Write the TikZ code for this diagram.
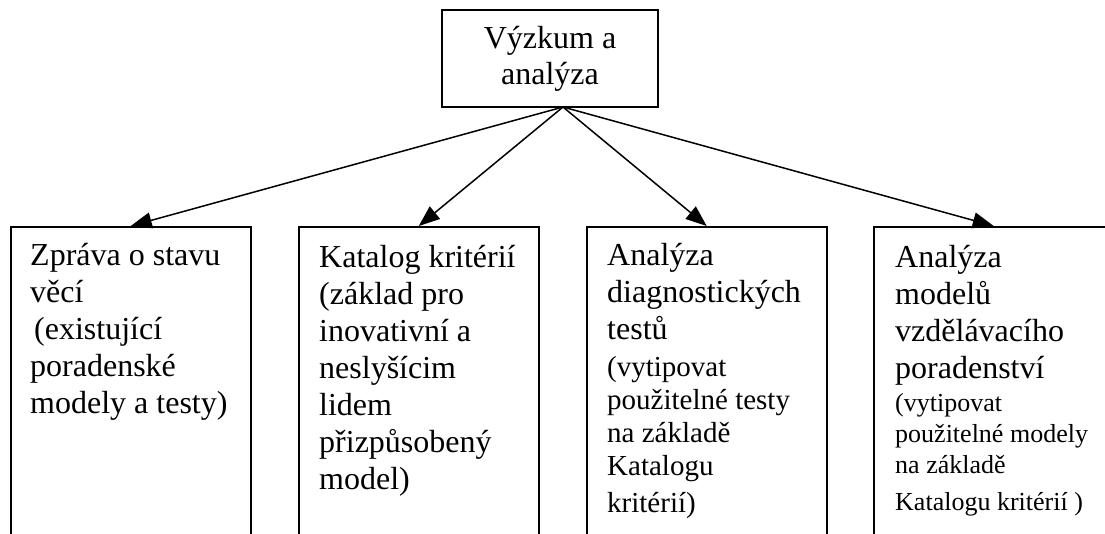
\documentclass[tikz,border=0pt]{standalone}
\usepackage{fontspec}
\setmainfont{Liberation Serif}
\usetikzlibrary{arrows.meta}
\begin{document}
\begin{tikzpicture}[x=1pt, y=1pt, every node/.style={inner sep=0pt},
    topbox/.style={draw, line width=1.5pt, minimum width=216pt, minimum height=97pt, align=center, font=\fontsize{32}{36}\selectfont},
    subbox/.style={draw, line width=1.5pt, minimum width=240pt, minimum height=400pt, anchor=north west},
    subtext/.style={anchor=north west, text width=230pt, align=flush left, font=\fontsize{32}{37}\selectfont},
    conn/.style={line width=1.5pt, -{Triangle[length=21pt, width=16pt]}}]
    \clip (0,0) rectangle (1105,-533);
    \node[topbox] (top) at (550, -58.5) {Výzkum a\\analýza};
    \coordinate (hub) at (563, -107);
    \node[subbox] (b1) at (10, -226) {};
    \node[subbox] (b2) at (298, -226) {};
    \node[subbox] (b3) at (586, -226) {};
    \node[subbox] (b4) at (873, -226) {};
    \node[subtext] (t1) at (30, -235) {\rule{0pt}{30pt}Zpráva o stavu\\věcí\\\hspace*{4pt}(existující\\poradenské\\modely a testy)};
    \node[subtext] (t2) at (319, -237) {\rule{0pt}{30pt}Katalog kritérií\\(základ pro\\inovativní a\\neslyšícim\\lidem\\přizpůsobený\\model)};
    \node[subtext] (t3) at (607, -235) {\rule{0pt}{30pt}Analýza\\diagnostických\\testů\par\vspace{4pt}
        \fontsize{29}{33}\selectfont(vytipovat\\použitelné testy\\na základě\\Katalogu\\kritérií)};
    \node[subtext] (t4) at (895, -237) {\rule{0pt}{30pt}Analýza\\modelů\\vzdělávacího\\poradenství\par\vspace{3pt}
        \fontsize{26}{30.7}\selectfont(vytipovat\\použitelné modely\\na základě\\Katalogu kritérií )};
    \foreach \to in {b1, b2, b3, b4}
        \draw[conn] (hub) -- (\to.north);
\end{tikzpicture}
\end{document}
